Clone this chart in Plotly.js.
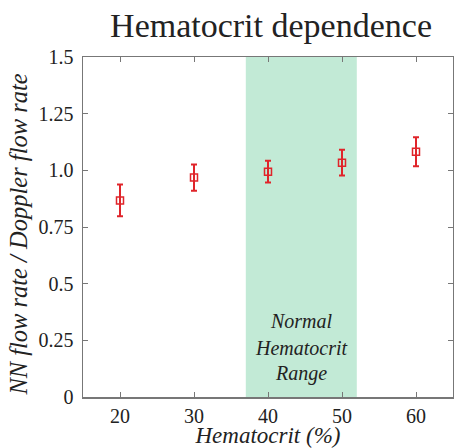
<!DOCTYPE html>
<html>
<head>
<meta charset="utf-8">
<script src="https://cdn.plot.ly/plotly-3.0.1.min.js"></script>
<style>
html,body{margin:0;padding:0;background:#fff;}#chart{width:454px;height:448px;}
</style>
</head>
<body>
<div id="chart"></div>
<script>
const hematocrit = [20, 30, 40, 50, 60];
const ratio = [0.867, 0.968, 0.994, 1.034, 1.082];
const errHigh = [0.070, 0.058, 0.048, 0.057, 0.064];
const errLow = [0.070, 0.058, 0.048, 0.057, 0.064];
const normalRange = [37, 52];
const rangeLabelLines = ["Normal", "Hematocrit", "Range"];
const yTickVals = [0, 0.25, 0.5, 0.75, 1.0, 1.25, 1.5];
const yTickText = ["0", "0.25", "0.5", "0.75", "1.0", "1.25", "1.5"];
const xTickVals = [20, 30, 40, 50, 60];

const serif = "Liberation Serif";
const axisColor = "#777777";
const red = "#e0242a";
const textColor = "#222222";

const trace = {
  x: hematocrit, y: ratio, type: "scatter", mode: "markers",
  marker: {symbol: "square-open", size: 7, color: red, line: {width: 1.5, color: red}},
  error_y: {type: "data", symmetric: false, array: errHigh, arrayminus: errLow,
            color: red, thickness: 2, width: 3},
  showlegend: false, hoverinfo: "skip"
};

const labelCenter = 0.218, labelStep = 0.116;
const rangeAnnotations = rangeLabelLines.map((t, i) => ({
  xref: "x", yref: "y", x: (normalRange[0] + normalRange[1]) / 2,
  y: labelCenter + (1 - i) * labelStep, text: t, showarrow: false,
  font: {family: serif, style: "italic", size: 20, color: textColor}, xanchor: "center", yanchor: "middle"
}));

const layout = {
  width: 454, height: 448,
  margin: {l: 83, r: 1, t: 57, b: 51},
  paper_bgcolor: "#ffffff", plot_bgcolor: "#ffffff",
  font: {family: serif, color: textColor},
  title: {text: "Hematocrit dependence", font: {family: serif, size: 34, color: textColor},
          x: 0.597, xanchor: "center", yref: "container", y: 0.945, yanchor: "middle"},
  xaxis: {range: [15, 65], tickvals: xTickVals, ticks: "inside", ticklen: 5, tickcolor: axisColor,
          showline: true, linecolor: axisColor, linewidth: 1.5, mirror: "ticks", showgrid: false, zeroline: false,
          tickfont: {family: serif, size: 20, color: textColor},
          title: {text: "Hematocrit (%)", font: {family: serif, style: "italic", size: 23, color: textColor}, standoff: 0}},
  yaxis: {range: [0, 1.5], tickvals: yTickVals, ticktext: yTickText, ticks: "inside", ticklen: 5, tickcolor: axisColor,
          showline: true, linecolor: axisColor, linewidth: 1.5, mirror: "ticks", showgrid: false, zeroline: false,
          ticklabelstandoff: 4,
          tickfont: {family: serif, size: 20, color: textColor},
          title: {text: "NN flow rate / Doppler flow rate", font: {family: serif, style: "italic", size: 24.5, color: textColor}, standoff: 4}},
  shapes: [{type: "rect", xref: "x", yref: "paper", x0: normalRange[0], x1: normalRange[1], y0: 0, y1: 1,
            fillcolor: "#c2ead6", line: {width: 0}, layer: "below"}],
  annotations: rangeAnnotations
};

Plotly.newPlot("chart", [trace], layout, {displayModeBar: false, staticPlot: true}).then(gd => {
  // the reference's y title sits slightly below the plot's middle
  gd.querySelectorAll(".g-ytitle text").forEach(el => {
    const prev = el.getAttribute("transform") || "";
    el.setAttribute("transform", "translate(0,7) " + prev);
  });
});
</script>
</body>
</html>
